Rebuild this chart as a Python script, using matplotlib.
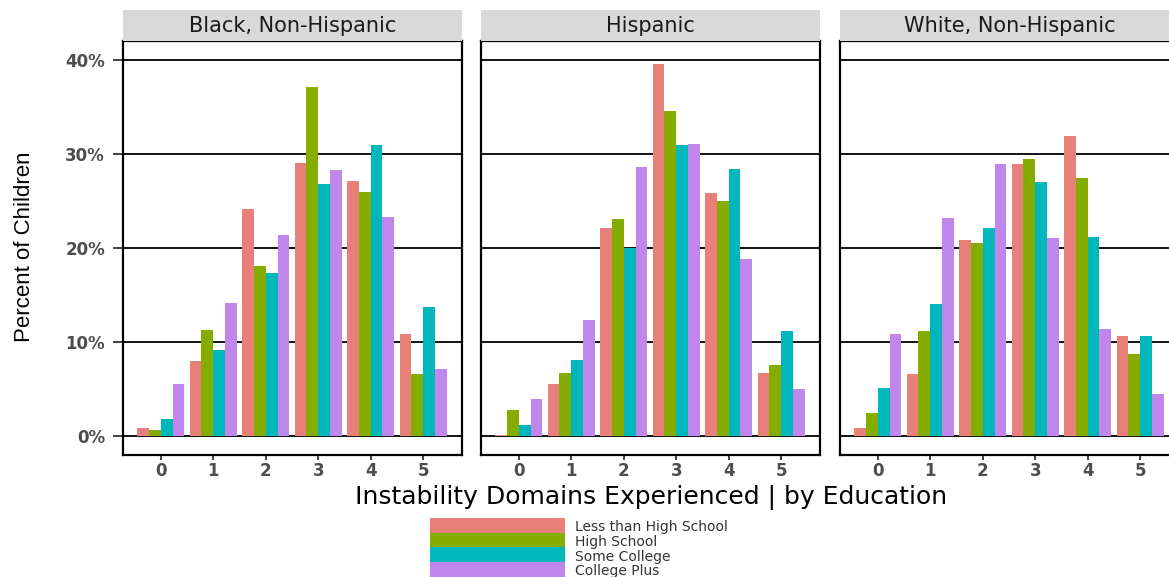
import numpy as np
import matplotlib.pyplot as plt
from matplotlib.patches import Patch
from matplotlib.ticker import PercentFormatter

# 不安定ドメイン数 (x軸)
domains = [0, 1, 2, 3, 4, 5]
panels = ['Black, Non-Hispanic', 'Hispanic', 'White, Non-Hispanic']
education = ['Less than High School', 'High School', 'Some College', 'College Plus']
colors = ['#E87F78', '#84AD00', '#00B8BC', '#BF86EC']

black_lths = [0.85, 8.0, 24.1, 29.0, 27.1, 10.85]
black_hs = [0.7, 11.3, 18.1, 37.1, 26.0, 6.6]
black_sc = [1.8, 9.15, 17.3, 26.8, 31.0, 13.7]
black_cp = [5.5, 14.2, 21.4, 28.3, 23.3, 7.1]

hisp_lths = [0.15, 5.5, 22.1, 39.6, 25.8, 6.7]
hisp_hs = [2.8, 6.7, 23.1, 34.6, 25.0, 7.6]
hisp_sc = [1.2, 8.1, 20.0, 30.9, 28.4, 11.2]
hisp_cp = [3.9, 12.4, 28.6, 31.1, 18.8, 5.0]

white_lths = [0.85, 6.6, 20.9, 28.9, 31.9, 10.7]
white_hs = [2.5, 11.2, 20.5, 29.5, 27.4, 8.75]
white_sc = [5.1, 14.0, 22.1, 27.0, 21.2, 10.6]
white_cp = [10.9, 23.2, 28.9, 21.1, 11.4, 4.5]

panel_values = [
    [black_lths, black_hs, black_sc, black_cp],
    [hisp_lths, hisp_hs, hisp_sc, hisp_cp],
    [white_lths, white_hs, white_sc, white_cp],
]

W, H = 1169, 577
fig = plt.figure(figsize=(W / 100, H / 100), dpi=100)


def px_axes(x0, y0, x1, y1):
    '''
    ピクセル座標 (左上原点) から axes を作る
    '''
    return fig.add_axes([x0 / W, 1 - y1 / H, (x1 - x0) / W, (y1 - y0) / H])


panel_x = [(123, 462), (481, 820), (840, 1179)]
bar_w = 0.225
x = np.array(domains)

for p, (x0, x1) in enumerate(panel_x):
    ax = px_axes(x0, 41, x1, 455)
    for i, vals in enumerate(panel_values[p]):
        ax.bar(x + (i - 1.5) * bar_w, vals, width=bar_w, color=colors[i], linewidth=0)

    ax.set_xlim(-0.72, 5.74)
    ax.set_ylim(-2, 42)
    ax.set_xticks(domains)
    ax.set_yticks([0, 10, 20, 30, 40])
    ax.yaxis.set_major_formatter(PercentFormatter(decimals=0))
    ax.yaxis.grid(True, color='black', linewidth=1.3)
    ax.set_axisbelow(True)
    for s in ax.spines.values():
        s.set_linewidth(1.6)
        s.set_color('black')

    ax.tick_params(axis='x', length=3.5, width=1.3, color='#333333', pad=1.5,
                   labelsize=12, labelcolor='#4D4D4D')
    for lab in ax.get_xticklabels():
        lab.set_fontweight('bold')
        lab.set_family('DejaVu Sans')
    if p == 0:
        ax.tick_params(axis='y', length=7, width=1.3, color='#333333', pad=6,
                       labelsize=12, labelcolor='#4D4D4D')
        for lab in ax.get_yticklabels():
            lab.set_fontweight('bold')
            lab.set_family('DejaVu Sans')
    else:
        ax.tick_params(axis='y', left=False, labelleft=False)

    # ファセットのストリップ
    sax = px_axes(x0, 10, x1, 41)
    sax.set_facecolor('#D9D9D9')
    sax.set_xticks([])
    sax.set_yticks([])
    for s in sax.spines.values():
        s.set_visible(False)
    sax.text(0.5, 0.5, panels[p], ha='center', va='center', fontsize=15,
             family='DejaVu Sans', color='#1A1A1A', transform=sax.transAxes)

fig.text(25 / W, 1 - 247 / H, 'Percent of Children', rotation=90, ha='center', va='center',
         fontsize=16, family='Liberation Sans', color='black')
fig.text(651 / W, 1 - 497 / H, 'Instability Domains Experienced | by Education',
         ha='center', va='center', fontsize=18, family='DejaVu Sans', color='black')

# 凡例: 色の帯を隙間なく縦に並べる
handles = [Patch(facecolor=c, edgecolor='none') for c in colors]
fs = 10
pt = fs * 1.389
box_h = 17.0
hh = (box_h / pt - 0.245) / 0.65
fig.legend(handles, education, loc='upper left', bbox_to_anchor=(430 / W, 1 - 518 / H),
           frameon=False, borderpad=0, borderaxespad=0,
           labelspacing=-(box_h - 14.75) / pt,
           handlelength=135 / pt, handleheight=hh,
           handletextpad=10 / pt, prop={'family': 'DejaVu Sans', 'size': fs},
           labelcolor='#333333')

fig.savefig('out.png', dpi=100)
